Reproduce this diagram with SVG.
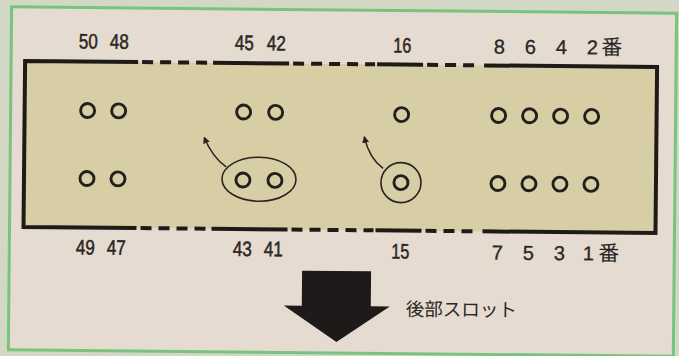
<svg xmlns="http://www.w3.org/2000/svg" width="679" height="356" viewBox="0 0 679 356">
<style>
.pin{fill:none;stroke:#231f1c;stroke-width:2.9}
.ring{fill:none;stroke:#2a2420;stroke-width:1.6}
.lbl{font-family:"Liberation Sans",Arial,sans-serif;font-size:21px;fill:#2b2622;stroke:#2b2622;stroke-width:0.5;text-anchor:middle}
.lbl2{font-family:"Liberation Sans",Arial,sans-serif;font-size:20px;fill:#2b2622;stroke:#2b2622;stroke-width:0.3;text-anchor:middle}
.jp{font-family:"Liberation Sans","Noto Sans CJK JP",sans-serif;fill:#2b2622}
.solid{stroke:#1e1a18;stroke-width:4;fill:none}
.dash{stroke:#1e1a18;stroke-width:4;fill:none;stroke-dasharray:11 7}
.conn{fill:none;stroke:#2a2420;stroke-width:1.5}
</style>
<defs>
<marker id="ah" viewBox="0 0 10 10" refX="8" refY="5" markerWidth="7" markerHeight="8" orient="auto" markerUnits="userSpaceOnUse">
<path d="M0,0 L10,5 L0,10 Z" fill="#2a2420"/>
</marker>
</defs>
<rect x="0" y="0" width="679" height="356" fill="#d3d8c4"/>
<g transform="rotate(0.55 340 178)">
<rect id="panel" x="10" y="10" width="665" height="343" fill="#e5dbd0" stroke="#78c47e" stroke-width="3"/>
<g id="frame">
<rect x="24" y="64" width="632" height="166" fill="#d8cea6"/>
<path class="solid" d="M137,64 H24 V230 H137"/>
<path class="dash" d="M141,64 H210 M141,230 H210"/>
<path class="solid" d="M212,64 H288 M212,230 H288"/>
<path class="dash" d="M292,64 H374 M292,230 H374"/>
<path class="solid" d="M376,64 H422 M376,230 H422"/>
<path class="dash" d="M426,64 H480 M426,230 H480"/>
<path class="solid" d="M483,64 H656 V230 H483"/>
</g>
<g id="pins-50-49">
<circle class="pin" cx="87" cy="113" r="7"/><circle class="pin" cx="118" cy="113" r="7"/>
<circle class="pin" cx="87" cy="181" r="7"/><circle class="pin" cx="118" cy="181" r="7"/>
<text class="lbl" x="87" y="51" textLength="19" lengthAdjust="spacingAndGlyphs">50</text>
<text class="lbl" x="118" y="51" textLength="19" lengthAdjust="spacingAndGlyphs">48</text>
<text class="lbl" x="86" y="257" textLength="19" lengthAdjust="spacingAndGlyphs">49</text>
<text class="lbl" x="117" y="257" textLength="19" lengthAdjust="spacingAndGlyphs">47</text>
</g>
<g id="pins-45-41">
<circle class="pin" cx="243" cy="113" r="7"/><circle class="pin" cx="275" cy="113" r="7"/>
<circle class="pin" cx="243" cy="181" r="7"/><circle class="pin" cx="275" cy="181" r="7"/>
<ellipse class="ring" cx="259" cy="180" rx="37" ry="22"/>
<text class="lbl" x="243" y="51" textLength="19" lengthAdjust="spacingAndGlyphs">45</text>
<text class="lbl" x="275" y="51" textLength="19" lengthAdjust="spacingAndGlyphs">42</text>
<text class="lbl" x="243" y="257" textLength="19" lengthAdjust="spacingAndGlyphs">43</text>
<text class="lbl" x="274" y="257" textLength="19" lengthAdjust="spacingAndGlyphs">41</text>
</g>
<g id="pins-16-15">
<circle class="pin" cx="401" cy="114" r="7"/>
<circle class="pin" cx="401" cy="182" r="7"/>
<circle class="ring" cx="401" cy="182" r="20"/>
<text class="lbl" x="401" y="52" font-size="18" textLength="18" lengthAdjust="spacingAndGlyphs">16</text>
<text class="lbl" x="401" y="258" font-size="18" textLength="18" lengthAdjust="spacingAndGlyphs">15</text>
</g>
<g id="pins-8-1">
<circle class="pin" cx="498" cy="114" r="7"/><circle class="pin" cx="529" cy="114" r="7"/>
<circle class="pin" cx="560" cy="114" r="7"/><circle class="pin" cx="591" cy="114" r="7"/>
<circle class="pin" cx="498" cy="182" r="7"/><circle class="pin" cx="529" cy="182" r="7"/>
<circle class="pin" cx="560" cy="182" r="7"/><circle class="pin" cx="591" cy="182" r="7"/>
<text class="lbl2" x="498" y="52">8</text><text class="lbl2" x="529" y="52">6</text>
<text class="lbl2" x="560" y="52">4</text><text class="lbl2" x="591" y="52">2</text>
<text class="jp" x="600" y="52" font-size="21">番</text>
<text class="lbl2" x="498" y="258">7</text><text class="lbl2" x="529" y="258">5</text>
<text class="lbl2" x="560" y="258">3</text><text class="lbl2" x="589" y="258">1</text>
<text class="jp" x="599" y="258" font-size="21">番</text>
</g>
<g id="connectors">
<path class="conn" d="M226,168 Q212,158 204,139" marker-end="url(#ah)"/>
<path class="conn" d="M383,168 Q369,158 364,137" marker-end="url(#ah)"/>
</g>
<g id="rear-slot">
<path d="M303,271 H372 V306 H391 L338,342 L285,306 H303 Z" fill="#1d1a19"/>
<text class="jp" x="407" y="315" font-size="18.5">後部スロット</text>
</g>
</g>
</svg>
